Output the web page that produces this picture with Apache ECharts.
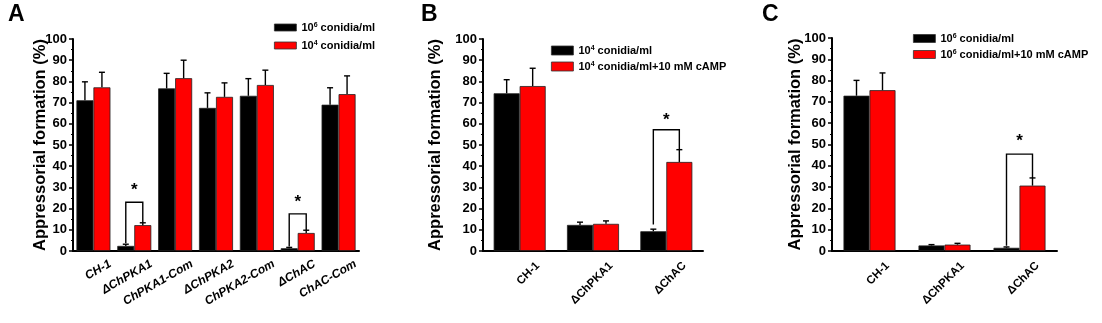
<!DOCTYPE html>
<html>
<head>
<meta charset="utf-8">
<script src="https://cdn.jsdelivr.net/npm/echarts@6/dist/echarts.min.js"></script>
<style>
  html, body { margin: 0; padding: 0; background: #fff; }
  #chart { width: 1102px; height: 323px; }
</style>
</head>
<body>
<div id="chart"></div>
<script>
// 数据 Panel A
var catsA = ['CH-1', 'ΔChPKA1', 'ChPKA1-Com', 'ΔChPKA2', 'ChPKA2-Com', 'ΔChAC', 'ChAC-Com'];
var a6 = [71.1, 2.4, 76.7, 67.5, 73.2, 1.3, 69.0];
var a6Err = [8.7, 0.8, 7.1, 7.1, 8.1, 0.4, 8.0];
var a4 = [77.2, 12.2, 81.5, 72.7, 78.3, 8.5, 74.0];
var a4Err = [7.1, 1.1, 8.5, 6.6, 7.0, 1.3, 8.6];
// [category, left leg end, right leg end, top, star]
var sigA = [[1, 3.7, 13.3, 23, 28.7], [5, 2.1, 9.8, 17.5, 23]];

// Panel B
var catsB = ['CH-1', 'ΔChPKA1', 'ΔChAC'];
var b4 = [74.4, 12.3, 9.3];
var b4Err = [6.4, 1.3, 1.0];
var b4c = [77.8, 12.8, 42.0];
var b4cErr = [8.4, 1.4, 5.8];
var sigB = [[2, 12.5, 47.8, 57.2, 61.5]];

// Panel C
var catsC = ['CH-1', 'ΔChPKA1', 'ΔChAC'];
var c6 = [72.9, 2.6, 1.5];
var c6Err = [7.2, 0.4, 0.4];
var c6c = [75.5, 3.0, 30.7];
var c6cErr = [8.1, 0.6, 3.6];
var sigC = [[2, 2.5, 34.3, 45.5, 51.3]];

var legendText = {
    A6: '10{s|6} conidia/ml',
    A4: '10{s|4} conidia/ml',
    B4: '10{s|4} conidia/ml',
    B4c: '10{s|4} conidia/ml+10 mM cAMP',
    C6: '10{s|6} conidia/ml',
    C6c: '10{s|6} conidia/ml+10 mM cAMP'
};

var FONT = '"Liberation Sans", Arial, sans-serif';

var chart = echarts.init(document.getElementById('chart'));

//误差线
function errRender(side, bw) {
    return function (params, api) {
        var c = api.coord([api.value(0), api.value(1)]);
        var x = c[0] + side * bw / 2;
        var y1 = api.coord([api.value(0), api.value(1) + api.value(2)])[1];
        return {
            type: 'group',
            children: [
                { type: 'line', shape: { x1: x, y1: c[1], x2: x, y2: y1 }, style: { stroke: '#000', lineWidth: 1.4 } },
                { type: 'line', shape: { x1: x - 3, y1: y1, x2: x + 3, y2: y1 }, style: { stroke: '#000', lineWidth: 1.4 } }
            ]
        };
    };
}

//显著性标记
function sigRender(bw) {
    return function (params, api) {
        var i = api.value(0);
        var cx = api.coord([i, 0])[0];
        var xl = cx - bw / 2, xr = cx + bw / 2;
        var yl = api.coord([i, api.value(1)])[1];
        var yr = api.coord([i, api.value(2)])[1];
        var yt = api.coord([i, api.value(3)])[1];
        var ys = api.coord([i, api.value(4)])[1];
        return {
            type: 'group',
            children: [
                { type: 'polyline', shape: { points: [[xl, yl], [xl, yt], [xr, yt], [xr, yr]] }, style: { stroke: '#000', lineWidth: 1.4, fill: null } },
                { type: 'text', x: cx, y: ys, style: { text: '*', fontSize: 17, fontWeight: 'bold', fontFamily: FONT, fill: '#000', align: 'center', verticalAlign: 'middle' } }
            ]
        };
    };
}

//x轴标签（斜放）
function labelRender(cats, rot, dx, dy, size, italic) {
    return function (params, api) {
        var i = api.value(0);
        var p = api.coord([i, 0]);
        return {
            type: 'text',
            x: p[0] + dx,
            y: p[1] + dy,
            rotation: rot * Math.PI / 180,
            style: {
                text: cats[i], align: 'right', verticalAlign: 'middle',
                fontSize: size, fontWeight: 'bold', fontStyle: italic ? 'italic' : 'normal',
                fontFamily: FONT, fill: '#000'
            }
        };
    };
}

function toPairs(vals, errs) {
    return vals.map(function (v, i) { return [i, v, errs[i]]; });
}

function makeX(idx, cats) {
    return {
        type: 'category',
        gridIndex: idx,
        data: cats,
        axisLine: { lineStyle: { color: '#000', width: 2 } },
        axisTick: { alignWithLabel: true, length: 4, lineStyle: { color: '#000', width: 1.5 } },
        axisLabel: { show: false },
        splitLine: { show: false }
    };
}

function makeY(idx, gap) {
    return {
        type: 'value',
        gridIndex: idx,
        min: 0, max: 100, interval: 10,
        name: 'Appressorial formation (%)',
        nameLocation: 'middle',
        nameRotate: 90,
        nameGap: gap,
        nameMoveOverlap: false,
        nameTextStyle: { color: '#000', fontWeight: 'bold', fontSize: 16.5, fontFamily: FONT },
        axisLine: { show: true, lineStyle: { color: '#000', width: 2 } },
        axisTick: { show: true, length: 4, lineStyle: { color: '#000', width: 1.5 } },
        minorTick: { show: true, splitNumber: 2, length: 2, lineStyle: { color: '#000', width: 1.2 } },
        axisLabel: { color: '#000', fontWeight: 'bold', fontSize: 13, fontFamily: FONT, margin: 6 },
        splitLine: { show: false }
    };
}

function makeLegend(names, left, top, gap, h) {
    return {
        data: names,
        orient: 'vertical',
        left: left, top: top,
        itemGap: gap,
        itemWidth: 22, itemHeight: h,
        icon: 'rect',
        padding: 0,
        itemStyle: { borderColor: '#333', borderWidth: 0.8 },
        formatter: function (n) { return legendText[n]; },
        textStyle: {
            color: '#000', fontWeight: 'bold', fontSize: 11, fontFamily: FONT, lineHeight: 13,
            rich: { s: { fontSize: 7, fontWeight: 'bold', fontFamily: FONT, padding: [0, 0, 5, 0], color: '#000' } }
        }
    };
}

function bars(name, idx, vals, color, bw) {
    return {
        name: name, type: 'bar', xAxisIndex: idx, yAxisIndex: idx,
        data: vals, barWidth: bw, barGap: '0%',
        itemStyle: { color: color, borderColor: '#222', borderWidth: 0.8 },
        silent: true
    };
}

function errs(idx, vals, e, side, bw) {
    return {
        type: 'custom', xAxisIndex: idx, yAxisIndex: idx,
        renderItem: errRender(side, bw), data: toPairs(vals, e), z: 3, silent: true,
        encode: { x: 0, y: 1 }
    };
}

function sig(idx, data, bw) {
    return {
        type: 'custom', xAxisIndex: idx, yAxisIndex: idx,
        renderItem: sigRender(bw), data: data, z: 4, silent: true,
        encode: { x: 0, y: 3 }
    };
}

function xLabels(idx, cats, rot, dx, dy, size, italic) {
    return {
        type: 'custom', xAxisIndex: idx, yAxisIndex: idx,
        renderItem: labelRender(cats, rot, dx, dy, size, italic),
        data: cats.map(function (c, i) { return [i, 0]; }),
        clip: false, silent: true, encode: { x: 0, y: 1 }
    };
}

var option = {
    backgroundColor: '#fff',
    animation: false,
    textStyle: { fontFamily: FONT },
    graphic: [
        { type: 'text', left: 8, top: 3, style: { text: 'A', fontSize: 23, fontWeight: 'bold', fontFamily: FONT, fill: '#000' } },
        { type: 'text', left: 421, top: 3, style: { text: 'B', fontSize: 23, fontWeight: 'bold', fontFamily: FONT, fill: '#000' } },
        { type: 'text', left: 762, top: 3, style: { text: 'C', fontSize: 23, fontWeight: 'bold', fontFamily: FONT, fill: '#000' } }
    ],
    legend: [
        makeLegend(['A6', 'A4'], 274, 21, 5, 7),
        makeLegend(['B4', 'B4c'], 551, 44, 3, 9),
        makeLegend(['C6', 'C6c'], 913, 32, 3, 8)
    ],
    grid: [
        { left: 73, top: 39, width: 286, height: 212 },
        { left: 483, top: 39, width: 220, height: 212 },
        { left: 832, top: 38, width: 225, height: 213 }
    ],
    xAxis: [makeX(0, catsA), makeX(1, catsB), makeX(2, catsC)],
    yAxis: [makeY(0, 24.5), makeY(1, 39), makeY(2, 28.5)],
    series: [
        bars('A6', 0, a6, '#000', 17),
        bars('A4', 0, a4, '#ff0000', 17),
        errs(0, a6, a6Err, -1, 17),
        errs(0, a4, a4Err, 1, 17),
        sig(0, sigA, 17),
        xLabels(0, catsA, 30, 17, 12, 12, true),

        bars('B4', 1, b4, '#000', 26),
        bars('B4c', 1, b4c, '#ff0000', 26),
        errs(1, b4, b4Err, -1, 26),
        errs(1, b4c, b4cErr, 1, 26),
        sig(1, sigB, 26),
        xLabels(1, catsB, 45, 18, 13, 11.5, false),

        bars('C6', 2, c6, '#000', 26),
        bars('C6c', 2, c6c, '#ff0000', 26),
        errs(2, c6, c6Err, -1, 26),
        errs(2, c6c, c6cErr, 1, 26),
        sig(2, sigC, 26),
        xLabels(2, catsC, 45, 18, 13, 11.5, false)
    ]
};

chart.setOption(option, true);
</script>
</body>
</html>
